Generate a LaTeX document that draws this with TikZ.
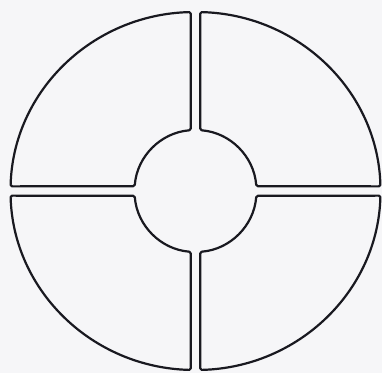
\documentclass[tikz,border=0pt]{standalone}
\begin{document}
\begin{tikzpicture}[x=1pt,y=1pt,
  seg/.style={draw=ink, line width=2.2pt, line join=round, rounded corners=1.5pt}]
\definecolor{ink}{RGB}{25,25,32}
\definecolor{paper}{RGB}{246,246,248}
\fill[paper] (0,0) rectangle (382,373);
\useasboundingbox (0,0) rectangle (382,373);
\def\rx{185}\def\ry{179}\def\ri{61}\def\g{4.8}
\pgfmathsetmacro\ao{asin(\g/\rx)}
\pgfmathsetmacro\ai{asin(\g/\ri)}
\begin{scope}[shift={(195.5,182)}]
\foreach \b in {0,90,180,270}{
  \draw[seg] (\b+\ai:\ri) arc[start angle=\b+\ai, end angle=\b+90-\ai, radius=\ri]
     -- ({\rx*cos(\b+90-\ao)},{\ry*sin(\b+90-\ao)})
     arc[start angle=\b+90-\ao, end angle=\b+\ao, x radius=\rx, y radius=\ry] -- cycle;
}
\end{scope}
\end{tikzpicture}
\end{document}
